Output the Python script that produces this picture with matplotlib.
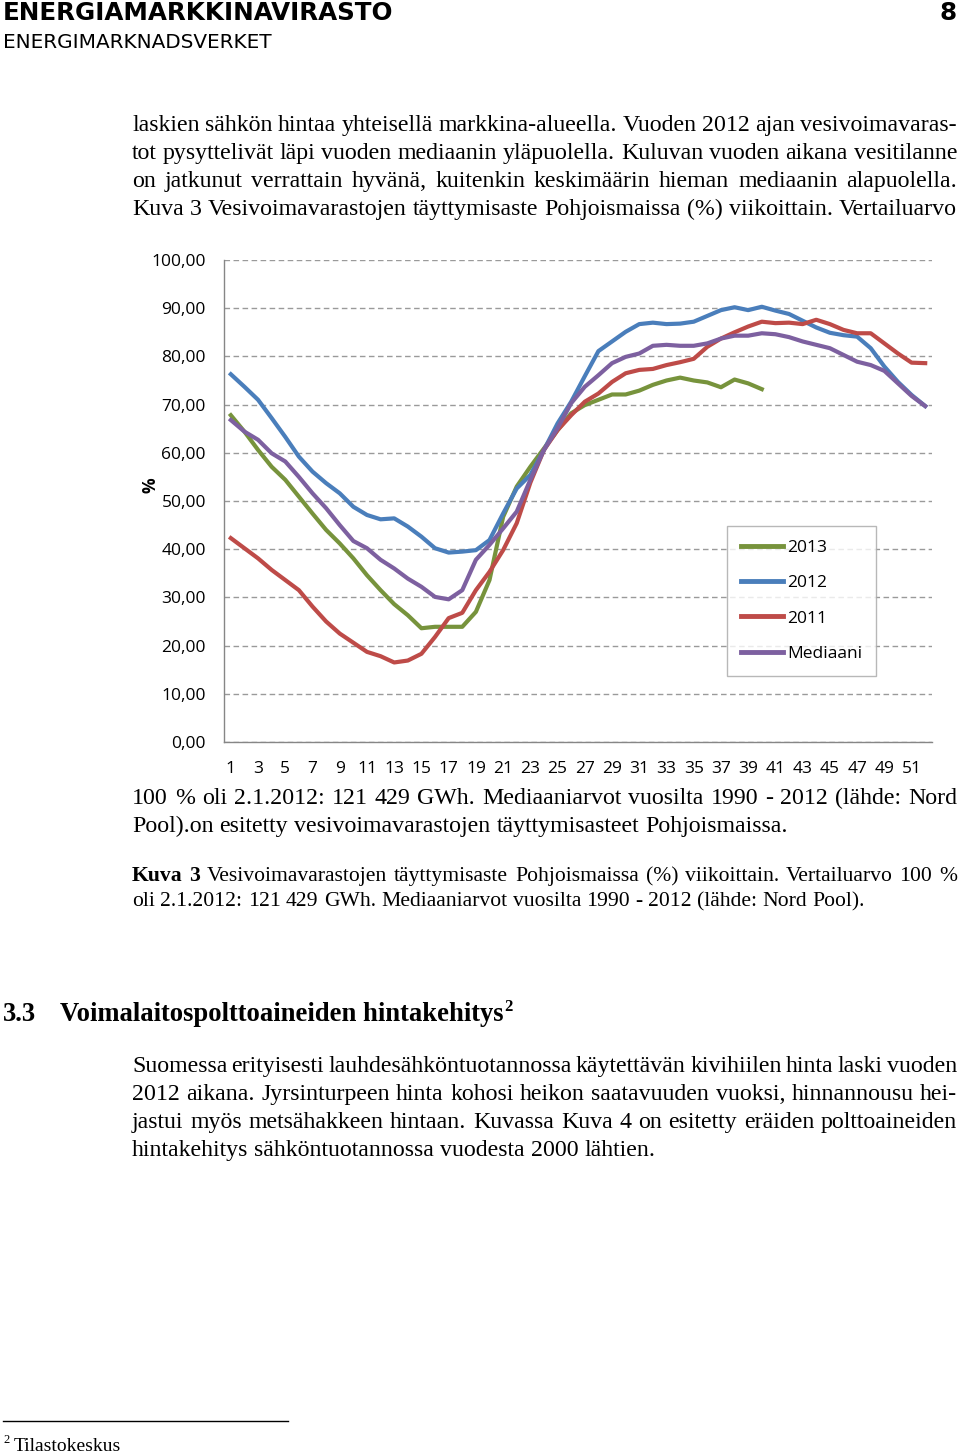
import numpy as np
import matplotlib
matplotlib.use("Agg")
import matplotlib.pyplot as plt

# weekly reservoir filling (%)
weeks = list(range(1, 53))
y2013 = [67.8, 64.4, 60.6, 57.1, 54.4, 50.9, 47.4, 44.0, 41.2, 38.1, 34.6, 31.5, 28.6,
         26.3, 23.6, 23.9, 23.9, 23.9, 27.0, 33.6, 46.7, 53.0, 57.1, 60.9, 64.7, 68.2,
         69.9, 71.0, 72.1, 72.1, 72.9, 74.1, 75.0, 75.6, 75.0, 74.6, 73.6, 75.2, 74.4, 73.2]
y2012 = [76.3, 73.7, 71.0, 67.2, 63.3, 59.2, 56.1, 53.7, 51.6, 48.8, 47.1, 46.2, 46.4,
         44.7, 42.6, 40.2, 39.3, 39.5, 39.8, 41.9, 47.4, 52.6, 55.4, 60.6, 66.1, 70.6,
         75.9, 81.1, 83.1, 85.1, 86.7, 87.0, 86.7, 86.8, 87.2, 88.4, 89.6, 90.2, 89.6,
         90.3, 89.5, 88.8, 87.4, 86.0, 84.9, 84.4, 84.1, 81.7, 77.9, 74.7, 72.0, 69.7]
y2011 = [42.3, 40.2, 38.1, 35.7, 33.6, 31.5, 28.1, 25.0, 22.5, 20.6, 18.7, 17.8, 16.5,
         16.9, 18.3, 21.8, 25.7, 26.8, 31.5, 35.3, 39.8, 45.4, 53.8, 60.6, 64.7, 67.8,
         70.6, 72.3, 74.7, 76.5, 77.2, 77.4, 78.2, 78.8, 79.5, 82.0, 83.7, 85.0, 86.2,
         87.2, 86.9, 87.0, 86.7, 87.6, 86.7, 85.5, 84.8, 84.8, 82.7, 80.6, 78.7, 78.6]
median = [66.8, 64.4, 62.7, 59.9, 58.2, 55.0, 51.6, 48.5, 45.0, 41.7, 40.2, 37.8, 36.0,
          33.9, 32.2, 30.1, 29.6, 31.5, 37.8, 40.9, 44.3, 47.8, 54.4, 60.6, 65.1, 70.3,
          73.7, 76.1, 78.6, 79.9, 80.6, 82.2, 82.4, 82.2, 82.2, 82.7, 83.7, 84.3, 84.3,
          84.8, 84.6, 84.0, 83.1, 82.4, 81.7, 80.3, 78.9, 78.2, 77.0, 74.4, 71.8, 69.7]
series_names = ["2013", "2012", "2011", "Mediaani"]
colors = ["#77933C", "#4A7EBB", "#BE4B48", "#7D60A0"]

W, H = 960, 1455
fig = plt.figure(figsize=(W / 100, H / 100), dpi=100)
renderer = fig.canvas.get_renderer()
SERIF = "Liberation Serif"
BODY = 17.2
CAP = 15.6


def fx(x):
    return x / W


def fy(y):
    return 1 - y / H


def put_line(y, parts, size=BODY, x0=132, x1=957, justify=True):
    """Place words of one text line at baseline y (pixels from top)."""
    texts = []
    for word, weight in parts:
        t = fig.text(0, fy(y), word, fontsize=size, family=SERIF,
                     fontweight=weight, va="baseline", ha="left")
        texts.append(t)
    widths = [t.get_window_extent(renderer).width for t in texts]
    probe = fig.text(0, 0, "a a", fontsize=size, family=SERIF)
    probe2 = fig.text(0, 0, "aa", fontsize=size, family=SERIF)
    space = probe.get_window_extent(renderer).width - probe2.get_window_extent(renderer).width
    probe.remove()
    probe2.remove()
    if justify and len(texts) > 1:
        gap = (x1 - x0 - sum(widths)) / (len(texts) - 1)
    else:
        gap = space
    x = x0
    for t, w in zip(texts, widths):
        t.set_x(fx(x))
        x += w + gap


def words(s, weight="normal"):
    return [(w, weight) for w in s.split()]


# page header
fig.text(fx(3), fy(20), "ENERGIAMARKKINAVIRASTO", fontsize=17.7, fontweight="bold",
         family="DejaVu Sans", va="baseline")
fig.text(fx(957), fy(20), "8", fontsize=17.7, fontweight="bold",
         family="DejaVu Sans", va="baseline", ha="right")
fig.text(fx(3), fy(48), "ENERGIMARKNADSVERKET", fontsize=14.4,
         family="DejaVu Sans", va="baseline")

# paragraph above the chart
put_line(131, words("laskien sähkön hintaa yhteisellä markkina-alueella. Vuoden 2012 ajan vesivoimavaras-"))
put_line(159, words("tot pysyttelivät läpi vuoden mediaanin yläpuolella. Kuluvan vuoden aikana vesitilanne"))
put_line(187, words("on jatkunut verrattain hyvänä, kuitenkin keskimäärin hieman mediaanin alapuolella."))
put_line(215, words("Kuva 3 Vesivoimavarastojen täyttymisaste Pohjoismaissa (%) viikoittain. Vertailuarvo"))

# chart
ax = fig.add_axes([fx(224), fy(742), 708 / W, 482 / H])
ax.plot(weeks[:len(y2013)], y2013, color=colors[0], lw=3, label=series_names[0])
ax.plot(weeks, y2012, color=colors[1], lw=3, label=series_names[1])
ax.plot(weeks, y2011, color=colors[2], lw=3, label=series_names[2])
ax.plot(weeks, median, color=colors[3], lw=3, label=series_names[3])

ax.set_xlim(0.5, 52.5)
ax.set_ylim(0, 100)
yt = list(range(0, 101, 10))
ax.set_yticks(yt)
ax.set_yticklabels([f"{v:.2f}".replace(".", ",") for v in yt])
ax.set_xticks(weeks[::2])
ax.set_xticklabels([str(w) for w in weeks[::2]])
ax.tick_params(axis="both", length=0, labelsize=12.5)
ax.tick_params(axis="y", pad=13)
ax.tick_params(axis="x", pad=14)
for lab in ax.get_xticklabels() + ax.get_yticklabels():
    lab.set_family("Open Sans")
ax.yaxis.grid(True, color="#9A9A9A", lw=1, ls=(0, (4, 2.5)))
ax.set_axisbelow(True)
for s in ["top", "right"]:
    ax.spines[s].set_visible(False)
for s in ["left", "bottom"]:
    ax.spines[s].set_color("#868686")
    ax.spines[s].set_linewidth(1)

fig.text(fx(150), fy(485), "%", rotation=90, fontsize=12.5, fontweight="bold",
         family="Open Sans", ha="center", va="center")

leg = ax.legend(loc="upper left", bbox_to_anchor=(fx(727), fy(526)),
                bbox_transform=fig.transFigure, frameon=True, fancybox=False,
                prop={"family": "Open Sans", "size": 12.5}, handlelength=2.4,
                handletextpad=0.25, labelspacing=1.1, borderpad=0.8,
                borderaxespad=0)
leg.get_frame().set_edgecolor("#A6A6A6")
leg.get_frame().set_linewidth(1)
for h in leg.get_lines():
    h.set_linewidth(3.5)

# text below the chart
put_line(804, words("100 % oli 2.1.2012: 121 429 GWh. Mediaaniarvot vuosilta 1990 - 2012 (lähde: Nord"))
put_line(832, words("Pool).on esitetty vesivoimavarastojen täyttymisasteet Pohjoismaissa."), justify=False)

put_line(881, words("Kuva 3", "bold") + words("Vesivoimavarastojen täyttymisaste Pohjoismaissa (%) viikoittain. Vertailuarvo 100 %"),
         size=CAP)
put_line(906, words("oli 2.1.2012: 121 429 GWh. Mediaaniarvot vuosilta 1990 - 2012 (lähde: Nord Pool)."),
         size=CAP, justify=False)

# section heading
fig.text(fx(3), fy(1021), "3.3", fontsize=19.2, fontweight="bold", family=SERIF, va="baseline")
head = fig.text(fx(60), fy(1021), "Voimalaitospolttoaineiden hintakehitys", fontsize=19.2,
                fontweight="bold", family=SERIF, va="baseline")
hx = 60 + head.get_window_extent(renderer).width
fig.text(fx(hx + 1), fy(1011), "2", fontsize=12, fontweight="bold", family=SERIF, va="baseline")

put_line(1072, words("Suomessa erityisesti lauhdesähköntuotannossa käytettävän kivihiilen hinta laski vuoden"))
put_line(1100, words("2012 aikana. Jyrsinturpeen hinta kohosi heikon saatavuuden vuoksi, hinnannousu hei-"))
put_line(1128, words("jastui myös metsähakkeen hintaan.  Kuvassa Kuva 4 on esitetty eräiden polttoaineiden"))
put_line(1156, words("hintakehitys sähköntuotannossa vuodesta 2000 lähtien."), justify=False)

# footnote
fig.add_artist(plt.Line2D([fx(3), fx(288)], [fy(1421), fy(1421)], color="black", lw=1))
fig.text(fx(3), fy(1443), "2", fontsize=9, family=SERIF, va="baseline")
fig.text(fx(14), fy(1451), "Tilastokeskus", fontsize=14, family=SERIF, va="baseline")

fig.savefig("out.png", dpi=100)
